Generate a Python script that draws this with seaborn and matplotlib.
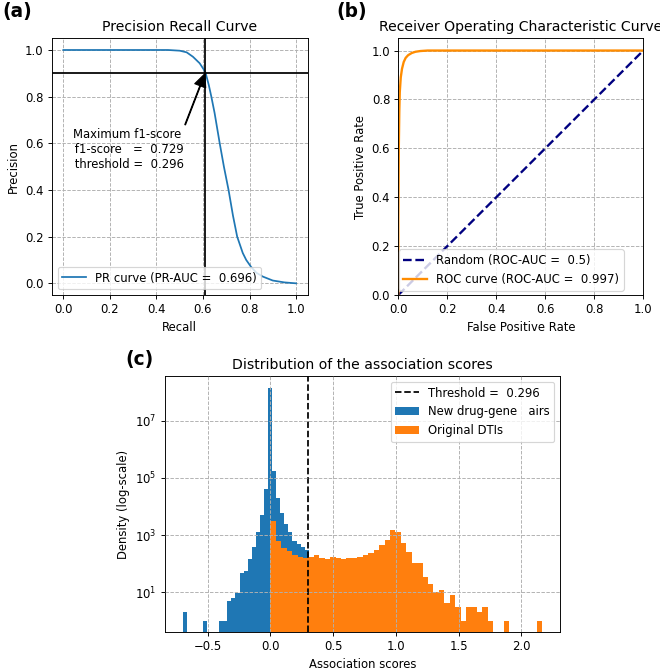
import numpy as np
import pandas as pd
import matplotlib
matplotlib.use("Agg")
import matplotlib.pyplot as plt
from matplotlib.lines import Line2D
from matplotlib.patches import Patch
from matplotlib.ticker import NullLocator
import seaborn as sns

# ---------------- data ----------------
# (a) precision-recall curve
pr_recall = [0.0, 0.45, 0.50, 0.53, 0.557, 0.586, 0.603, 0.611, 0.625, 0.636, 0.650,
             0.672, 0.69, 0.71, 0.729, 0.747, 0.771, 0.786, 0.807, 0.83, 0.857, 0.90, 0.95, 1.0]
pr_precision = [1.0, 1.0, 0.997, 0.99, 0.971, 0.943, 0.917, 0.903, 0.85, 0.80, 0.73,
                0.60, 0.50, 0.40, 0.29, 0.20, 0.13, 0.10, 0.07, 0.045, 0.029, 0.012, 0.004, 0.0]
best_recall = 0.61
best_precision = 0.9027
pr_label = "PR curve (PR-AUC =  0.696)"
annot_text = "Maximum f1-score\n f1-score   =  0.729\n threshold =  0.296"

# (b) ROC curve
roc_fpr = [0.0, 0.0, 0.002, 0.004, 0.006, 0.01, 0.015, 0.022, 0.03, 0.04, 0.055, 0.07, 0.09, 0.12, 1.0]
roc_tpr = [0.0, 0.3, 0.6, 0.75, 0.83, 0.89, 0.925, 0.953, 0.97, 0.981, 0.99, 0.995, 0.998, 1.0, 1.0]
random_x = [0.0, 1.0]
random_y = [0.0, 1.0]
random_label = "Random (ROC-AUC =  0.5)"
roc_label = "ROC curve (ROC-AUC =  0.997)"

# (c) histograms of association scores
threshold = 0.296
threshold_label = "Threshold =  0.296"
new_label = "New drug-gene   airs"
orig_label = "Original DTIs"
new_range = (-0.70, 0.305)
new_counts = [2, 0, 0, 0, 0, 1, 0, 0, 0, 1, 1, 5, 6, 9, 45, 55, 150, 385, 1250, 5000,
              40000, 1.45e8, 1.8e5, 2.0e4, 5800, 2450, 1250, 620, 480, 370, 295]
orig_range = (0.0, 2.165)
orig_counts = [3150, 600, 360, 280, 195, 170, 160, 174, 193, 152,
               140, 174, 163, 145, 152, 163, 174, 198, 240, 300,
               430, 660, 1500, 1230, 520, 245, 106, 106, 34, 20,
               10, 12, 4, 8, 3, 1, 3, 3, 2, 3,
               1, 0, 0, 1, 0, 0, 0, 0, 0, 1]

BLUE = "#1f77b4"
ORANGE = "#ff7f0e"

# ---------------- figure ----------------
DPI = 84
fig = plt.figure(figsize=(660 / DPI, 670 / DPI), dpi=DPI)

# ---- (a)
ax_a = fig.add_axes([0.0783, 0.5597, 0.3879, 0.3831])
sns.lineplot(x=pr_recall, y=pr_precision, ax=ax_a, color=BLUE, lw=1.5,
             sort=False, estimator=None, label=pr_label)
ax_a.axhline(best_precision, color="black", lw=1.5)
ax_a.axvline(best_recall, color="black", lw=1.5)
ax_a.annotate(annot_text, xy=(best_recall, best_precision), xytext=(0.275, 0.665),
              ha="center", va="top", multialignment="center", fontsize=10,
              arrowprops=dict(facecolor="black", edgecolor="black", shrink=0.02,
                              width=0.6, headwidth=10, headlength=11))
ax_a.set_xlim(-0.05, 1.05)
ax_a.set_ylim(-0.05, 1.05)
ax_a.set_xticks([0.0, 0.2, 0.4, 0.6, 0.8, 1.0])
ax_a.set_yticks([0.0, 0.2, 0.4, 0.6, 0.8, 1.0])
ax_a.grid(True, linestyle="--")
ax_a.set_title("Precision Recall Curve", fontsize=12)
ax_a.set_xlabel("Recall", fontsize=10)
ax_a.set_ylabel("Precision", fontsize=10)
ax_a.legend(loc="lower left", fontsize=10)

# ---- (b)
ax_b = fig.add_axes([0.6035, 0.5597, 0.3712, 0.3831])
sns.lineplot(x=random_x, y=random_y, ax=ax_b, color="navy", lw=2, linestyle="--",
             sort=False, estimator=None, label=random_label)
sns.lineplot(x=roc_fpr, y=roc_tpr, ax=ax_b, color="darkorange", lw=2,
             sort=False, estimator=None, label=roc_label)
ax_b.set_xlim(0.0, 1.0)
ax_b.set_ylim(0.0, 1.05)
ax_b.set_xticks([0.0, 0.2, 0.4, 0.6, 0.8, 1.0])
ax_b.set_yticks([0.0, 0.2, 0.4, 0.6, 0.8, 1.0])
ax_b.grid(True, linestyle="--")
ax_b.set_title("Receiver Operating Characteristic Curve", fontsize=12)
ax_b.set_xlabel("False Positive Rate", fontsize=10)
ax_b.set_ylabel("True Positive Rate", fontsize=10)
ax_b.legend(loc="lower left", bbox_to_anchor=(0.002, 0.017), borderaxespad=0, fontsize=10)

# ---- (c)
ax_c = fig.add_axes([0.2495, 0.0567, 0.599, 0.382])
new_edges = np.linspace(new_range[0], new_range[1], len(new_counts) + 1)
orig_edges = np.linspace(orig_range[0], orig_range[1], len(orig_counts) + 1)
new_df = pd.DataFrame({"score": (new_edges[:-1] + new_edges[1:]) / 2,
                       "count": np.asarray(new_counts, dtype=float)})
orig_df = pd.DataFrame({"score": (orig_edges[:-1] + orig_edges[1:]) / 2,
                        "count": np.asarray(orig_counts, dtype=float)})
sns.histplot(data=new_df, x="score", weights="count", bins=list(new_edges), ax=ax_c,
             color=BLUE, alpha=1, linewidth=0, edgecolor="none")
sns.histplot(data=orig_df, x="score", weights="count", bins=list(orig_edges), ax=ax_c,
             color=ORANGE, alpha=1, linewidth=0, edgecolor="none")
ax_c.axvline(threshold, color="black", linestyle="--", lw=1.5)
ax_c.set_yscale("log")
ax_c.set_ylim(0.4, 3.7e8)
ax_c.set_xlim(-0.843, 2.308)
ax_c.set_yticks([1e1, 1e3, 1e5, 1e7])
ax_c.yaxis.set_minor_locator(NullLocator())
ax_c.set_xticks([-0.5, 0.0, 0.5, 1.0, 1.5, 2.0])
ax_c.grid(True, linestyle="--")
ax_c.set_axisbelow(False)
ax_c.set_title("Distribution of the association scores", fontsize=12)
ax_c.set_xlabel("Association scores", fontsize=10)
ax_c.set_ylabel("Density (log-scale)", fontsize=10)
handles = [Line2D([0], [0], color="black", linestyle="--", lw=1.5),
           Patch(facecolor=BLUE), Patch(facecolor=ORANGE)]
ax_c.legend(handles, [threshold_label, new_label, orig_label], loc="upper right", fontsize=10)

for ax in (ax_a, ax_b, ax_c):
    ax.tick_params(labelsize=10)

# panel letters
fig.text(0.003, 0.997, "(a)", fontsize=16, fontweight="bold", va="top", ha="left")
fig.text(0.510, 0.997, "(b)", fontsize=16, fontweight="bold", va="top", ha="left")
fig.text(0.1905, 0.478, "(c)", fontsize=16, fontweight="bold", va="top", ha="left")

fig.savefig("out.png", dpi=DPI)
